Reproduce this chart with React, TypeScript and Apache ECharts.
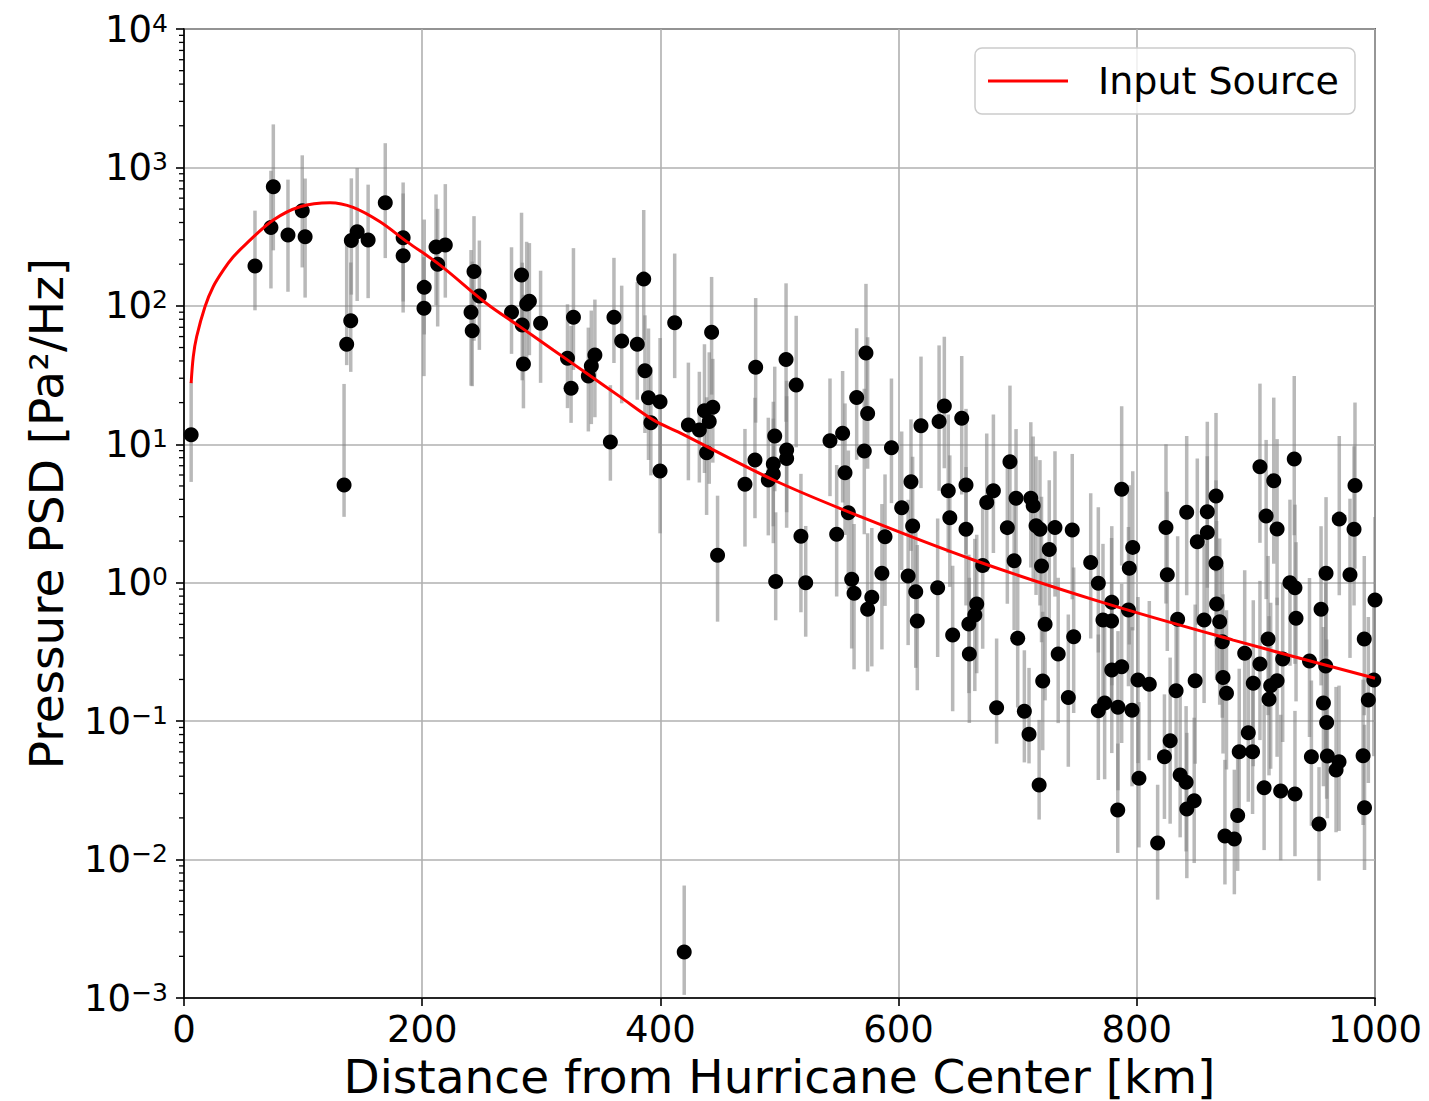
import React, { useEffect, useRef } from "react";
import * as echarts from "echarts";

const FONT = "DejaVu Sans";

// Model curve ("Input Source"): distance [km], PSD [Pa^2/Hz]
const curveKm = [6, 7.8, 10.6, 17.6, 24.6, 33, 41.4, 52.6, 75, 97.4, 122.6, 142, 164.6, 187, 215, 254, 282, 310, 338, 366, 394, 416.5, 495, 568, 663, 769, 881, 1000];
const curvePsd = [27.7, 43, 59.8, 98.6, 138, 181, 226, 283, 417, 520, 556, 515, 405, 291, 197, 104, 70.8, 48, 32.6, 22.1, 15, 12.1, 5.52, 3.0, 1.46, 0.73, 0.385, 0.204];

// Observations: [distance km, PSD, error-bar down (decades), error-bar up (decades)]
const obsNear = [
  [6, 11.7, 0.34, 0.38], [59.6, 194, 0.32, 0.4], [73, 368, 0.44, 0.41], [75, 726, 0.46, 0.45],
  [87.3, 325, 0.41, 0.4], [99.3, 487, 0.41, 0.4], [101.7, 316, 0.44, 0.42], [134.4, 5.08, 0.23, 0.73],
  [136.6, 52.7, 0.15, 0.75], [140, 78.2, 0.37, 0.42], [140.5, 296, 0.39, 0.45], [145.4, 343, 0.5, 0.46],
  [154.6, 299, 0.42, 0.4], [169, 556, 0.4, 0.43], [184, 310, 0.46, 0.4], [184, 230, 0.41, 0.45],
  [201.5, 96, 0.49, 0.37], [201.7, 136, 0.34, 0.49], [211.6, 266, 0.42, 0.38], [213, 200, 0.45, 0.4],
  [219.4, 275, 0.38, 0.44], [243.5, 177, 0.5, 0.4], [248, 118, 0.39, 0.4], [241, 89.8, 0.53, 0.45],
  [242, 66, 0.4, 0.5], [275, 89.8, 0.3, 0.47], [283.4, 167, 0.4, 0.45], [290, 108, 0.39, 0.42],
  [287.7, 103, 0.4, 0.45], [284, 72.8, 0.4, 0.45], [285, 38, 0.32, 0.5], [299.4, 74.8, 0.43, 0.38],
  [327, 82.6, 0.38, 0.5], [322, 41.8, 0.36, 0.39], [325, 25.4, 0.25, 0.45], [345, 44.2, 0.45, 0.4],
  [342, 36.8, 0.42, 0.4], [339.5, 31.1, 0.4, 0.35], [361, 82.6, 0.33, 0.43], [367.5, 55.7, 0.45, 0.4],
  [358, 10.4, 0.28, 0.41], [380.6, 52.7, 0.4, 0.45], [386, 156, 0.44, 0.5], [387, 34, 0.45, 0.4],
  [390, 21.7, 0.45, 0.5], [399.7, 20.3, 0.47, 0.46], [392, 14.3, 0.38, 0.4], [399.7, 6.41, 0.45, 0.35],
  [412, 75.5, 0.4, 0.5], [420, 0.00215, 0.31, 0.48], [443, 64.4, 0.45, 0.4], [423.5, 13.8, 0.4, 0.45],
  [432.7, 12.7, 0.38, 0.42], [437, 17.5, 0.45, 0.48], [444, 18.5, 0.4, 0.35], [441, 14.6, 0.45, 0.5],
  [438.8, 8.7, 0.45, 0.4], [448, 1.58, 0.48, 0.43],
];

const obsMid = [
  [480, 36, 0.4, 0.5], [471, 5.14, 0.45, 0.4], [479.4, 7.69, 0.42, 0.45], [496, 11.5, 0.4, 0.5],
  [494.8, 7.2, 0.45, 0.45], [494.8, 6.1, 0.5, 0.4], [490.6, 5.52, 0.4, 0.45], [506, 9.1, 0.45, 0.5],
  [506, 7.9, 0.5, 0.45], [505.5, 41, 0.45, 0.55], [514, 26.8, 0.45, 0.5], [496.8, 1.02, 0.28, 0.5],
  [522, 1.0, 0.39, 0.41], [518, 2.17, 0.55, 0.45], [542.4, 10.6, 0.4, 0.45], [553, 12, 0.5, 0.45],
  [555, 6.24, 0.45, 0.5], [548, 2.24, 0.45, 0.5], [557.8, 3.2, 0.55, 0.45], [560.6, 1.06, 0.5, 0.45],
  [562.6, 0.84, 0.55, 0.5], [564.8, 21.8, 0.45, 0.5], [574, 16.7, 0.4, 0.55], [571.2, 8.93, 0.6, 0.45],
  [594, 9.44, 0.4, 0.5], [588.6, 2.15, 0.5, 0.45], [602.6, 3.48, 0.45, 0.55], [610.4, 5.37, 0.5, 0.45],
  [611.8, 2.57, 0.45, 0.5], [618.8, 13.6, 0.45, 0.5], [634, 14.6, 0.5, 0.55], [638.4, 18.9, 0.45, 0.5],
  [653, 15.4, 0.55, 0.45], [641.7, 4.62, 0.45, 0.55], [643, 2.95, 0.5, 0.45], [656.6, 5.08, 0.5, 0.55],
  [656.6, 2.43, 0.55, 0.45], [674, 3.79, 0.5, 0.5], [679.6, 4.62, 0.45, 0.55], [670.6, 1.33, 0.6, 0.45],
  [693.5, 7.48, 0.45, 0.55], [698.6, 4.07, 0.5, 0.5], [691.3, 2.5, 0.55, 0.45], [697, 1.44, 0.5, 0.5],
  [711, 4.07, 0.5, 0.55], [713, 3.6, 0.55, 0.5], [715.4, 2.58, 0.5, 0.5], [718.7, 2.43, 0.55, 0.5],
  [731.3, 2.51, 0.5, 0.55], [726.5, 1.74, 0.5, 0.5], [720, 1.32, 0.55, 0.5], [745.8, 2.4, 0.5, 0.55],
  [761.3, 1.4, 0.55, 0.5], [767.7, 0.99, 0.5, 0.55], [574, 0.643, 0.45, 0.55], [577.5, 0.786, 0.5, 0.5],
  [586, 1.17, 0.55, 0.5], [608, 1.12, 0.5, 0.55], [614.4, 0.861, 0.55, 0.5], [615.7, 0.528, 0.5, 0.55],
  [632.8, 0.92, 0.5, 0.5], [645.4, 0.419, 0.55, 0.5], [659.4, 0.306, 0.5, 0.55], [659, 0.504, 0.5, 0.5],
  [664, 0.585, 0.55, 0.55], [665.6, 0.702, 0.5, 0.5], [700, 0.397, 0.5, 0.55], [723, 0.501, 0.55, 0.5],
  [734, 0.306, 0.5, 0.55], [747, 0.407, 0.55, 0.5], [721, 0.195, 0.5, 0.5], [771.6, 0.538, 0.55, 0.55],
  [742.5, 0.148, 0.5, 0.6], [682.3, 0.125, 0.26, 0.5], [705.6, 0.118, 0.37, 0.44], [709.5, 0.0803, 0.21, 0.48],
  [718, 0.0346, 0.25, 0.47], [767.7, 0.119, 0.5, 0.55], [572.6, 45.6, 0.45, 0.5],
];

const obsFar = [
  [787.3, 4.73, 0.55, 0.6], [796.6, 1.8, 0.6, 0.55], [793.7, 1.27, 0.55, 0.6], [779, 0.722, 0.6, 0.55],
  [793, 0.635, 0.55, 0.6], [778.8, 0.528, 0.6, 0.6], [824.5, 2.51, 0.55, 0.6], [841.9, 3.23, 0.6, 0.55],
  [825.6, 1.14, 0.55, 0.6], [850.8, 1.98, 0.6, 0.6], [859.2, 3.26, 0.55, 0.65], [859.2, 2.31, 0.6, 0.55],
  [866.5, 4.23, 0.55, 0.6], [866.5, 1.38, 0.6, 0.6], [834.3, 0.544, 0.55, 0.6], [856.5, 0.538, 0.6, 0.55],
  [867, 0.702, 0.55, 0.6], [869.6, 0.523, 0.6, 0.6], [871.8, 0.375, 0.55, 0.55], [903.4, 6.89, 0.55, 0.6],
  [915, 5.46, 0.6, 0.6], [932.2, 7.83, 0.55, 0.6], [908.6, 3.03, 0.6, 0.55], [917.8, 2.44, 0.55, 0.65],
  [928.6, 1.0, 0.6, 0.6], [932.8, 0.92, 0.55, 0.6], [933.7, 0.553, 0.6, 0.55], [910.2, 0.392, 0.55, 0.6],
  [890.6, 0.309, 0.6, 0.6], [903.4, 0.259, 0.55, 0.6], [922.5, 0.281, 0.6, 0.55], [945, 0.272, 0.55, 0.6],
  [958.6, 0.25, 0.6, 0.6], [954.7, 0.643, 0.55, 0.6], [958.9, 1.17, 0.6, 0.55], [970, 2.88, 0.55, 0.6],
  [983.2, 5.03, 0.6, 0.6], [982.4, 2.43, 0.55, 0.6], [979, 1.14, 0.6, 0.55], [991, 0.392, 0.55, 0.6],
  [1000, 0.75, 0.6, 0.6], [999, 0.198, 0.55, 0.6], [779, 0.234, 0.6, 0.55], [787.3, 0.247, 0.55, 0.6],
  [801, 0.198, 0.6, 0.6], [810.5, 0.185, 0.55, 0.6], [849, 0.196, 0.6, 0.55], [872.4, 0.207, 0.55, 0.6],
  [897.8, 0.188, 0.6, 0.6], [917.8, 0.196, 0.55, 0.6], [833, 0.166, 0.6, 0.55], [875.3, 0.159, 0.55, 0.6],
  [912.4, 0.18, 0.6, 0.6], [911, 0.144, 0.55, 0.6], [956.7, 0.135, 0.6, 0.55], [959.4, 0.0976, 0.55, 0.6],
  [994.4, 0.142, 0.6, 0.6], [773, 0.135, 0.55, 0.6], [784.2, 0.126, 0.6, 0.55], [796, 0.12, 0.55, 0.6],
  [828, 0.0723, 0.6, 0.6], [823.2, 0.0554, 0.45, 0.45], [801.8, 0.0387, 0.5, 0.55], [836.4, 0.0408, 0.45, 0.6],
  [841.4, 0.0362, 0.5, 0.55], [848.2, 0.0266, 0.45, 0.6], [842, 0.0232, 0.5, 0.55], [784, 0.0228, 0.31, 0.48],
  [817.5, 0.0132, 0.41, 0.42], [886, 0.0601, 0.5, 0.6], [897.2, 0.0601, 0.45, 0.55], [893.6, 0.0826, 0.5, 0.6],
  [884.7, 0.0208, 0.4, 0.5], [874, 0.0148, 0.35, 0.55], [881.9, 0.0141, 0.4, 0.5], [906.9, 0.033, 0.45, 0.6],
  [920.8, 0.0313, 0.5, 0.55], [932.8, 0.0298, 0.45, 0.6], [946.6, 0.0554, 0.5, 0.55], [960, 0.056, 0.45, 0.6],
  [969.8, 0.0509, 0.5, 0.55], [967.3, 0.0444, 0.45, 0.6], [953, 0.0181, 0.41, 0.41], [990, 0.0562, 0.5, 0.55],
  [991.2, 0.0237, 0.45, 0.6],
];

const xTicks = [0, 200, 400, 600, 800, 1000];
const yDecades = [-3, -2, -1, 0, 1, 2, 3, 4];
const minorMultipliers = [2, 3, 4, 5, 6, 7, 8, 9];

export default function App() {
  const ref = useRef<HTMLDivElement>(null);

  useEffect(() => {
    if (!ref.current) return;
    const chart = echarts.init(ref.current, null, { renderer: "svg" });
    const obs = [...obsNear, ...obsMid, ...obsFar];
    const points = obs.map((r) => [r[0], r[1]]);
    const bars = obs.map((r) => [r[0], r[1] / Math.pow(10, r[2]), r[1] * Math.pow(10, r[3])]);
    const curve = curveKm.map((x, i) => [x, curvePsd[i]]);
    const minorTicks: number[][] = [];
    yDecades.slice(0, -1).forEach((e) => {
      minorMultipliers.forEach((m) => minorTicks.push([0, m * Math.pow(10, e)]));
    });

    const option: any = {
      animation: false,
      backgroundColor: "#ffffff",
      textStyle: { fontFamily: FONT },
      grid: {
        left: 184,
        top: 29,
        width: 1191,
        height: 969,
        containLabel: false,
        outerBoundsMode: "none",
        show: true,
        borderColor: "#000",
        borderWidth: 1.6,
        backgroundColor: "transparent",
      },
      legend: {
        data: [{ name: "Input Source", icon: "rect" }],
        left: 975,
        top: 48,
        orient: "horizontal",
        itemWidth: 80,
        itemHeight: 3,
        backgroundColor: "rgba(255,255,255,0.8)",
        borderColor: "#cccccc",
        borderWidth: 1.5,
        borderRadius: 7,
        padding: [14, 16, 14, 13],
        textStyle: { fontFamily: FONT, fontSize: 38, color: "#000", padding: [0, 0, 0, 25] },
      },
      xAxis: {
        type: "value",
        min: xTicks[0],
        max: xTicks[xTicks.length - 1],
        interval: 200,
        name: "Distance from Hurricane Center [km]",
        nameLocation: "middle",
        nameGap: 52,
        nameTextStyle: { fontFamily: FONT, fontSize: 47, lineHeight: 44, color: "#000" },
        axisLine: { show: true, onZero: false, lineStyle: { color: "#000", width: 1.6 } },
        axisTick: { show: true, inside: false, length: 8, lineStyle: { color: "#000", width: 1.6 } },
        axisLabel: {
          fontFamily: FONT,
          fontSize: 37,
          color: "#000",
          margin: 13,
          formatter: (v: number) => String(v),
        },
        splitLine: { show: true, lineStyle: { color: "#b0b0b0", width: 1.6 } },
      },
      yAxis: {
        type: "log",
        logBase: 10,
        min: Math.pow(10, yDecades[0]),
        max: Math.pow(10, yDecades[yDecades.length - 1]),
        splitNumber: 7,
        name: "Pressure PSD [Pa\u00b2/Hz]",
        nameLocation: "middle",
        nameGap: 114,
        nameTextStyle: { fontFamily: FONT, fontSize: 47, color: "#000" },
        axisLine: { show: true, onZero: false, lineStyle: { color: "#000", width: 1.6 } },
        axisTick: { show: true, inside: false, length: 8, lineStyle: { color: "#000", width: 1.6 } },
        axisLabel: {
          margin: 16,
          formatter: (v: number) => {
            const e = Math.round(Math.log10(v));
            const s = e < 0 ? "\u2212" + -e : String(e);
            return `{b|10}{s|${s}}`;
          },
          rich: {
            b: { fontFamily: FONT, fontSize: 37, color: "#000", lineHeight: 37 },
            s: { fontFamily: FONT, fontSize: 25, color: "#000", lineHeight: 20, verticalAlign: "top" },
          },
        },
        splitLine: { show: true, lineStyle: { color: "#b0b0b0", width: 1.6 } },
      },
      series: [
        {
          type: "custom",
          name: "minor ticks",
          silent: true,
          clip: false,
          z: 1,
          data: minorTicks,
          encode: { x: 0, y: 1 },
          renderItem: (_p: any, api: any) => {
            const c = api.coord([0, api.value(1)]);
            return {
              type: "line",
              shape: { x1: c[0] - 5, y1: c[1], x2: c[0], y2: c[1] },
              style: { stroke: "#000", lineWidth: 1.3 },
            };
          },
        },
        {
          type: "custom",
          name: "error bars",
          silent: true,
          clip: true,
          z: 2,
          data: bars,
          encode: { x: 0, y: [1, 2] },
          renderItem: (_p: any, api: any) => {
            const a = api.coord([api.value(0), api.value(1)]);
            const b = api.coord([api.value(0), api.value(2)]);
            return {
              type: "line",
              shape: { x1: a[0], y1: a[1], x2: b[0], y2: b[1] },
              style: { stroke: "rgba(128,128,128,0.55)", lineWidth: 3.5 },
            };
          },
        },
        {
          type: "scatter",
          name: "Observations",
          data: points,
          symbol: "circle",
          symbolSize: 15,
          clip: true,
          z: 3,
          itemStyle: { color: "#000", opacity: 1 },
        },
        {
          type: "line",
          name: "Input Source",
          data: curve,
          smooth: 0.35,
          symbol: "none",
          showSymbol: false,
          z: 5,
          lineStyle: { color: "#ff0000", width: 3 },
          itemStyle: { color: "#ff0000" },
        },
      ],
    };
    chart.setOption(option);
    return () => chart.dispose();
  }, []);

  return (
    <div
      ref={ref}
      style={{ position: "fixed", left: 0, top: 0, width: 1429, height: 1101, background: "#fff" }}
    />
  );
}
